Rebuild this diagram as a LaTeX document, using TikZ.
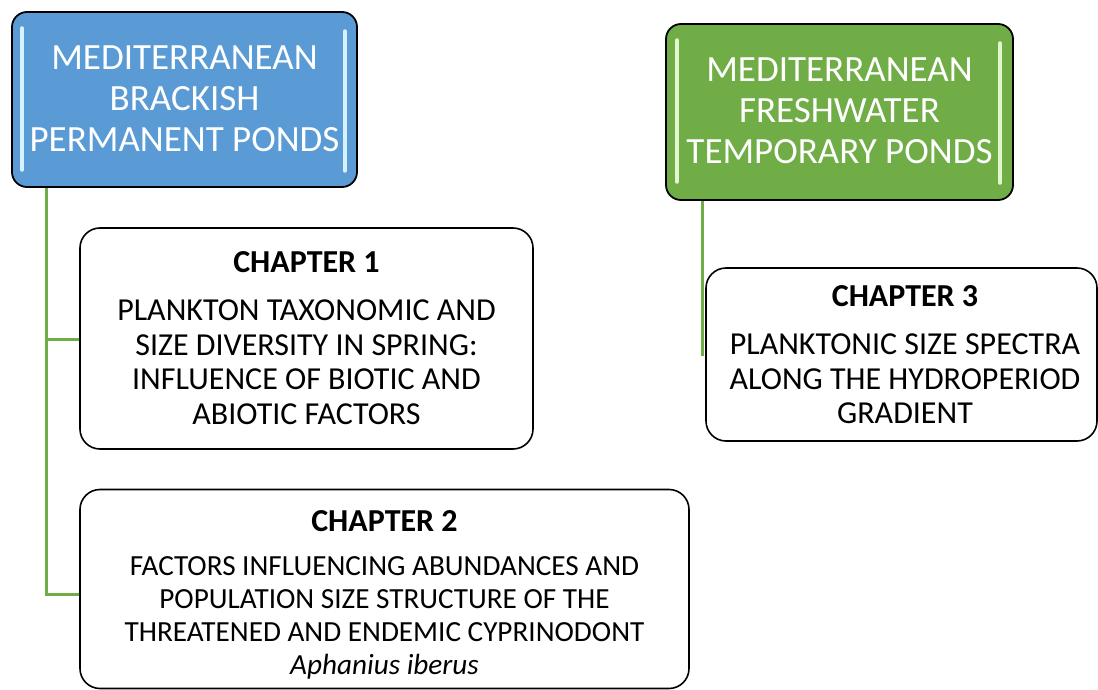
\documentclass[tikz,border=0pt]{standalone}
\usepackage{fontspec}
\setmainfont{Carlito}
\definecolor{pondblue}{HTML}{5B9BD5}
\definecolor{pondgreen}{HTML}{70AD47}
\definecolor{glowblue}{HTML}{D6F1FF}
\definecolor{glowgreen}{HTML}{E2F7CF}
\definecolor{linkgreen}{HTML}{70AD47}
\begin{document}
\begin{tikzpicture}[x=1pt,y=-1pt,
  headbox/.style={draw=black, line width=1.8pt, rounded corners=15pt, inner sep=0pt},
  chapbox/.style={draw=black, line width=1.6pt, rounded corners=20pt, fill=white, inner sep=0pt},
  headtext/.style={text=white, align=center, font=\fontsize{37}{41}\selectfont, inner sep=0pt},
  chaptitle/.style={align=center, font=\bfseries\fontsize{32}{34}\selectfont, inner sep=0pt},
  chaptext/.style={align=center, font=\fontsize{32}{34.5}\selectfont, inner sep=0pt},
  chapsmall/.style={align=center, font=\fontsize{29.2}{33}\selectfont, inner sep=0pt},
  link/.style={draw=linkgreen, line width=3pt},
  glow/.style={line width=3.5pt, line cap=round}
]
\useasboundingbox (0,0) rectangle (1098,690);

% header boxes
\node[headbox, fill=pondblue, minimum width=345pt, minimum height=175pt] (blue) at (184.5,99.5) {};
\draw[glow, glowblue] (22,28) -- (22,170);
\draw[glow, glowblue] (345,31) -- (345,171);
\node[headtext] (bluet) at (184.5,99) {MEDITERRANEAN\\BRACKISH\\PERMANENT PONDS};

\node[headbox, fill=pondgreen, minimum width=347pt, minimum height=176pt] (green) at (839.5,112) {};
\draw[glow, glowgreen] (677,40) -- (677,182);
\draw[glow, glowgreen] (1000,43) -- (1000,183);
\node[headtext] (greent) at (839.5,111) {MEDITERRANEAN\\FRESHWATER\\TEMPORARY PONDS};

% chapter boxes
\node[chapbox, minimum width=453pt, minimum height=221pt] (c1) at (306.5,338.5) {};
\node[chaptitle] (c1h) at (306.5,262) {CHAPTER 1};
\node[chaptext] (c1t) at (306.5,362) {PLANKTON TAXONOMIC AND\\SIZE DIVERSITY IN SPRING:\\INFLUENCE OF BIOTIC AND\\ABIOTIC FACTORS};

\node[chapbox, minimum width=609pt, minimum height=199pt] (c2) at (384.5,589) {};
\node[chaptitle] (c2h) at (384.5,521) {CHAPTER 2};
\node[chapsmall] (c2t) at (384.5,617.5) {FACTORS INFLUENCING ABUNDANCES AND\\POPULATION SIZE STRUCTURE OF THE\\THREATENED AND ENDEMIC CYPRINODONT\\\textit{Aphanius iberus}};

\node[chapbox, minimum width=391pt, minimum height=173pt] (c3) at (901.5,354.5) {};
\node[chaptitle] (c3h) at (905,296) {CHAPTER 3};
\node[chaptext] (c3t) at (905,379) {PLANKTONIC SIZE SPECTRA\\ALONG THE HYDROPERIOD\\GRADIENT};

% connectors
\coordinate (j1) at (46,339);
\coordinate (j2) at (46,594);
\coordinate (e3) at (702,356);
\draw[link] (blue.south west -| j1) -- (j2) -- (j2 -| c2.west);
\draw[link] (j1) -- (j1 -| c1.west);
\draw[link] (green.south west -| e3) -- (e3);
\end{tikzpicture}
\end{document}
